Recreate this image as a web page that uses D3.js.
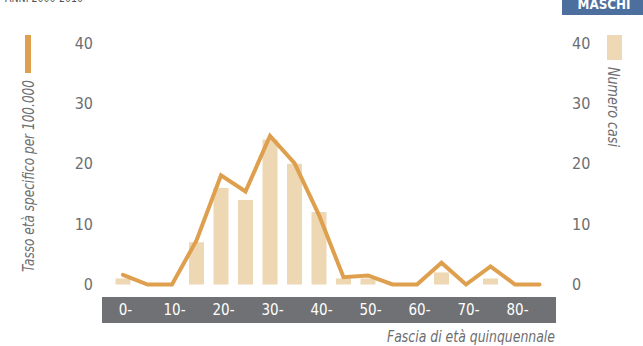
<!DOCTYPE html>
<html><head><meta charset="utf-8">
<script src="https://cdn.jsdelivr.net/npm/d3@7"></script>
<style>
body{margin:0;background:#fff;}
svg text{font-family:"Liberation Sans Narrow","DejaVu Sans Condensed","Roboto Condensed",sans-serif;}
</style></head>
<body><svg id="c" width="643" height="346"></svg>
<script>
const categories = ["0-","5-","10-","15-","20-","25-","30-","35-","40-","45-","50-","55-","60-","65-","70-","75-","80-","85-"];
const casi = [1,0,0,7,16,14,24,20,12,1,1,0,0,2,0,1,0,0];
const tasso = [1.6,0,0,7.3,18.1,15.4,24.6,20.1,11.5,1.2,1.5,0,0,3.6,0,3.0,0,0];
const yTicks = [0,10,20,30,40];
const shownLabels = ["0-","10-","20-","30-","40-","50-","60-","70-","80-"];

const svg = d3.select("#c");
const x = d3.scalePoint().domain(categories).range([123,539.5]);
const yL = d3.scaleLinear().domain([0,40]).range([284.5,43]);
const yR = d3.scaleLinear().domain([0,40]).range([284.5,43]);
const gray = "#6d6e71";

// header
svg.append("text").attr("x",5).attr("y",2).attr("font-size",12).attr("fill","#555").attr("textLength",78).attr("lengthAdjust","spacingAndGlyphs").text("ANNI 2000-2010");
svg.append("rect").attr("x",562).attr("y",-5).attr("width",81).attr("height",20).attr("fill","#4d6f9d");
svg.append("text").attr("x",604).attr("y",9).attr("text-anchor","middle").attr("font-size",14).attr("font-weight","bold").attr("fill","#fff").attr("textLength",53).attr("lengthAdjust","spacingAndGlyphs").text("MASCHI");

// band
svg.append("rect").attr("x",102).attr("y",297).attr("width",454).attr("height",26).attr("fill","#707174");

// axes
const aL = svg.append("g").attr("transform","translate(93,0)").call(d3.axisLeft(yL).tickValues(yTicks).tickSize(0).tickPadding(0));
const aR = svg.append("g").attr("transform","translate(572,0)").call(d3.axisRight(yR).tickValues(yTicks).tickSize(0).tickPadding(0));
[aL,aR].forEach(a=>{a.select(".domain").remove(); a.selectAll("text").attr("font-size",16).attr("fill",gray).style("font-family",'"Liberation Sans Narrow","DejaVu Sans Condensed",sans-serif');});

const aB = svg.append("g").attr("transform","translate(2,310)").call(d3.axisBottom(x).tickValues(shownLabels).tickSize(0).tickPadding(0));
aB.select(".domain").remove();
aB.selectAll("text").attr("font-size",15).attr("fill","#fff").attr("dy","0.35em").attr("y",0).style("font-family",'"Liberation Sans Narrow","DejaVu Sans Condensed",sans-serif');

// bars
const bw = 15;
svg.append("g").selectAll("rect").data(casi).join("rect")
  .attr("x",(d,i)=>x(categories[i])-bw/2).attr("width",bw)
  .attr("y",d=>yR(d)).attr("height",d=>yR(0)-yR(d)).attr("fill","#eed8b3");

// line
const line = d3.line().x((d,i)=>x(categories[i])).y(d=>yL(d));
svg.append("path").datum(tasso).attr("d",line).attr("fill","none").attr("stroke","#de9f4e").attr("stroke-width",4).attr("stroke-linejoin","miter").attr("stroke-linecap","round");

// legends
svg.append("rect").attr("x",25).attr("y",35).attr("width",6).attr("height",38).attr("fill","#de9f4e");
svg.append("text").attr("transform","translate(34,272) rotate(-90)").attr("font-size",16).attr("font-style","italic").attr("fill",gray).attr("textLength",192).attr("lengthAdjust","spacingAndGlyphs").text("Tasso età specifico per 100.000");
svg.append("rect").attr("x",607).attr("y",35).attr("width",15).attr("height",25).attr("fill","#efd8b5");
svg.append("text").attr("transform","translate(608,67) rotate(90)").attr("font-size",16).attr("font-style","italic").attr("fill",gray).attr("textLength",80).attr("lengthAdjust","spacingAndGlyphs").text("Numero casi");

svg.append("text").attr("x",555).attr("y",342).attr("text-anchor","end").attr("font-size",16).attr("font-style","italic").attr("fill",gray).attr("textLength",168).attr("lengthAdjust","spacingAndGlyphs").text("Fascia di età quinquennale");
</script></body></html>
